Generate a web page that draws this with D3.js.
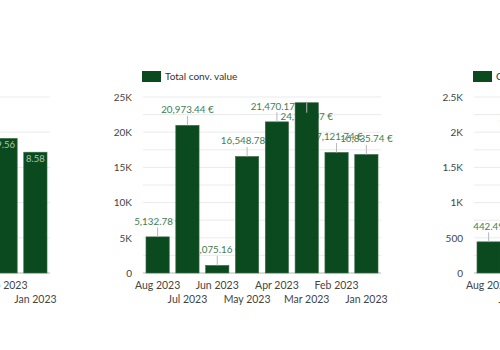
<!DOCTYPE html>
<html>
<head>
<meta charset="utf-8">
<script src="https://cdn.jsdelivr.net/npm/d3@7"></script>
<style>
  body { margin: 0; background: #fff; }
  svg { display: block; font-family: Lato, "Open Sans", sans-serif; }
</style>
</head>
<body>
<div id="chart"></div>
<script>
const width = 500;
const height = 350;
const plot = { left: 143, right: 381, top: 97, bottom: 273 };
const panelGap = 331;

// data (null = bar lies outside the visible window)
const months = ['Aug 2023', 'Jul 2023', 'Jun 2023', 'May 2023', 'Apr 2023', 'Mar 2023', 'Feb 2023', 'Jan 2023'];

const leftName = 'Conv. value / cost';
const leftValues = [null, null, null, null, null, null, 9.56, 8.58];
const leftTicks = [0, 2.5, 5, 7.5, 10, 12.5];
const leftGrid = [2.5, 5, 7.5, 10, 12.5];

const midName = 'Total conv. value';
const midValues = [5132.78, 20973.44, 1075.16, 16548.78, 21470.17, 24187.07, 17121.74, 16835.74];
const midTicks = [0, 5000, 10000, 15000, 20000, 25000];
const midGrid = [2500, 5000, 7500, 10000, 12500, 15000, 17500, 20000, 22500, 25000];

const rightName = 'Conversions';
const rightValues = [442.49, 1921.35, null, null, null, null, null, null];
const rightTicks = [0, 500, 1000, 1500, 2000, 2500];
const rightGrid = [250, 500, 750, 1000, 1250, 1500, 1750, 2000, 2250, 2500];

const barColor = '#0b4a1f';
const labelColor = '#3f7d50';

const kFormat = v => v >= 1000 ? (v / 1000) + 'K' : String(v);
const euro = v => d3.format(',.2f')(v) + ' €';
const plain = v => d3.format(',.2f')(v);

const svg = d3.select('#chart')
    .append('svg')
    .attr('width', width)
    .attr('height', height);

function drawPanel(offset, name, values, ticks, grid, labelFmt, inside) {
    const g = svg.append('g').attr('transform', `translate(${offset},0)`);

    const x = d3.scaleBand()
        .domain(months)
        .range([plot.left, plot.right])
        .paddingInner(0.22)
        .paddingOuter(0.1);

    const y = d3.scaleLinear()
        .domain([0, d3.max(ticks)])
        .range([plot.bottom, plot.top]);

    // grid
    g.selectAll('.grid')
        .data(grid)
        .join('line')
        .attr('x1', plot.left)
        .attr('x2', plot.right)
        .attr('y1', d => y(d))
        .attr('y2', d => y(d))
        .style('stroke', '#ebebeb')
        .style('stroke-width', 1);

    g.append('line')
        .attr('x1', plot.left)
        .attr('x2', plot.right)
        .attr('y1', y(0))
        .attr('y2', y(0))
        .style('stroke', '#b5b5b5');

    // y axis
    const yAxis = g.append('g')
        .attr('transform', `translate(${plot.left},0)`)
        .call(d3.axisLeft(y).tickValues(ticks).tickFormat(kFormat).tickSize(0).tickPadding(11));
    yAxis.select('.domain').remove();
    yAxis.selectAll('text')
        .style('font-size', '10px')
        .style('font-family', 'Lato, sans-serif')
        .style('fill', '#444');

    // x axis, labels on two rows
    const xAxis = g.append('g')
        .attr('transform', `translate(0,${plot.bottom})`)
        .call(d3.axisBottom(x).tickSize(0).tickPadding(9));
    xAxis.select('.domain').remove();
    xAxis.selectAll('text')
        .attr('y', (d, i) => i % 2 ? 23 : 9)
        .style('font-size', '10.5px')
        .style('font-family', 'Lato, sans-serif')
        .style('fill', '#444');

    // legend
    g.append('rect')
        .attr('x', plot.left - 1)
        .attr('y', 71)
        .attr('width', 19)
        .attr('height', 11)
        .style('fill', barColor);
    g.append('text')
        .attr('x', plot.left + 22)
        .attr('y', 77)
        .attr('dominant-baseline', 'middle')
        .style('font-size', '10px')
        .style('fill', '#333')
        .text(name);

    const rows = months.map((m, i) => ({ month: m, value: values[i] }))
        .filter(d => d.value != null);

    rows.forEach(d => {
        d.top = y(d.value);
        d.ly = d.top - 14.5;
        d.below = false;
        if (d.ly - 5 < plot.top) { d.ly = d.top + 15; d.below = true; }
    });

    // outside labels sit under the bars
    if (!inside) {
        g.selectAll('.vlabel')
            .data(rows)
            .join('text')
            .attr('x', d => x(d.month) + x.bandwidth() / 2)
            .attr('y', d => d.ly)
            .attr('text-anchor', 'middle')
            .attr('dominant-baseline', 'middle')
            .style('font-size', '9.8px')
            .style('fill', labelColor)
            .text(d => labelFmt(d.value));
    }

    g.selectAll('.bar')
        .data(rows)
        .join('rect')
        .attr('x', d => x(d.month))
        .attr('y', d => d.top)
        .attr('width', x.bandwidth())
        .attr('height', d => y(0) - d.top)
        .style('fill', barColor)
        .style('stroke', '#3c6b47')
        .style('stroke-width', 0.6);

    if (!inside) {
        g.selectAll('.conn')
            .data(rows)
            .join('line')
            .attr('x1', d => x(d.month) + x.bandwidth() / 2)
            .attr('x2', d => x(d.month) + x.bandwidth() / 2)
            .attr('y1', d => d.top)
            .attr('y2', d => d.below ? d.ly - 5 : d.ly + 5)
            .style('stroke', '#b9b9b9')
            .style('stroke-width', 1);
    } else {
        g.selectAll('.ilabel')
            .data(rows)
            .join('text')
            .attr('x', d => x(d.month) + x.bandwidth() / 2)
            .attr('y', d => d.top + 7)
            .attr('text-anchor', 'middle')
            .attr('dominant-baseline', 'middle')
            .style('font-size', '9.5px')
            .style('fill', '#a8c8b0')
            .text(d => labelFmt(d.value));
    }
}

drawPanel(-panelGap, leftName, leftValues, leftTicks, leftGrid, plain, true);
drawPanel(0, midName, midValues, midTicks, midGrid, euro, false);
drawPanel(panelGap, rightName, rightValues, rightTicks, rightGrid, plain, false);
</script>
</body>
</html>
